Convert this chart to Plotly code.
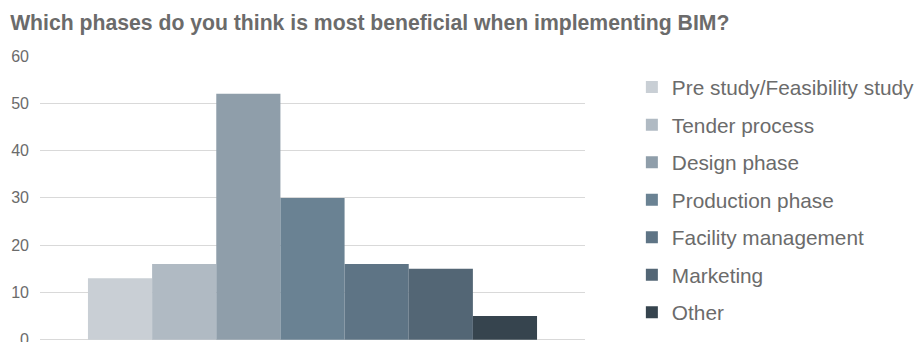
import plotly.graph_objects as go

title = "Which phases do you think is most beneficial when implementing BIM?"
phases = ["Pre study/Feasibility study", "Tender process", "Design phase",
          "Production phase", "Facility management", "Marketing", "Other"]
values = [13, 16, 52, 30, 16, 15, 5]
colors = ["#c9cfd5", "#b0bac3", "#8f9eaa", "#6a8293", "#5e7485", "#536675", "#36444e"]
y_ticks = [0, 10, 20, 30, 40, 50, 60]

fig = go.Figure()
for name, v, c in zip(phases, values, colors):
    fig.add_trace(go.Bar(x=[""], y=[v], name=name, legendgroup=name,
                         marker=dict(color=c, line=dict(width=0))))

fig.update_layout(
    width=921, height=342,
    margin=dict(l=40, r=336, t=56, b=2, autoexpand=False),
    paper_bgcolor="white", plot_bgcolor="white",
    barmode="group", bargap=0.176, bargroupgap=0,
    font=dict(family="Liberation Sans, Arial, sans-serif", color="#6b6b6b"),
    title=dict(text="<b>" + title + "</b>", x=0.011, xref="container", xanchor="left",
               y=1, yref="container", yanchor="top", pad=dict(t=15, l=0),
               font=dict(size=21.2, color="#6b6b6b")),
    showlegend=True,
    legend=dict(x=1.086, xanchor="left", y=0.961, yanchor="top",
                font=dict(size=20.8, color="#6b6b6b"), tracegroupgap=7.5,
                maxheight=1.0, itemclick=False, bgcolor="rgba(0,0,0,0)"),
    xaxis=dict(showticklabels=False, showgrid=False, zeroline=False, showline=False,
               automargin=False),
    yaxis=dict(range=[-0.05, 60], tickvals=y_ticks, showgrid=True, gridcolor="#d9d9d9",
               gridwidth=1, zeroline=True, zerolinecolor="#d9d9d9", zerolinewidth=1,
               showline=False, ticks="", ticklabeloverflow="allow", automargin=False,
               tickfont=dict(size=16, color="#6b6b6b"), ticklabelstandoff=10),
)

fig.write_html("out.html")
